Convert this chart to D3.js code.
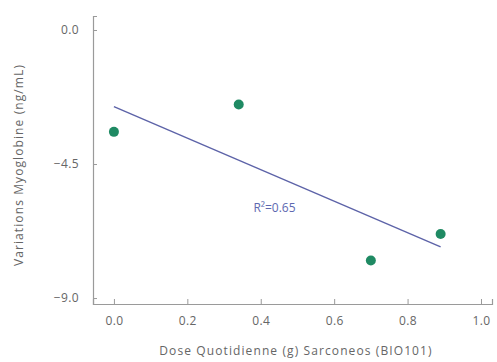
<!DOCTYPE html>
<html>
<head>
<meta charset="utf-8">
<script src="https://cdn.jsdelivr.net/npm/d3@7"></script>
<style>
  body { margin: 0; background: #fff; }
  svg text { font-family: "Open Sans", Lato, sans-serif; }
</style>
</head>
<body>
<div id="chart"></div>
<script>
// dose quotidienne (g) vs variation de myoglobine (ng/mL)
const doses = [0.0, 0.34, 0.70, 0.89];
const variations = [-3.42, -2.50, -7.74, -6.85];
const xTicks = [0.0, 0.2, 0.4, 0.6, 0.8, 1.0];
const yTicks = [0.0, -4.5, -9.0];
const r2Label = 'R²=0.65';

const width = 497, height = 362;
const svg = d3.select('#chart').append('svg')
  .attr('width', width).attr('height', height);

const x = d3.scaleLinear().domain([-0.057, 1.03]).range([93, 492]);
const y = d3.scaleLinear().domain([-9.2, 0.47]).range([304, 16]);

// axes
const xAxis = svg.append('g')
  .attr('transform', `translate(0,${y(-9.2)})`)
  .call(d3.axisBottom(x).tickValues(xTicks).tickSize(-5).tickPadding(12).tickFormat(d3.format('.1f')));
const yAxis = svg.append('g')
  .attr('transform', `translate(${x(-0.057)},0)`)
  .call(d3.axisLeft(y).tickValues(yTicks).tickSize(-4).tickPadding(14).tickFormat(d3.format('.1f')));

[xAxis, yAxis].forEach(g => {
  g.select('.domain').attr('stroke', '#9a9a9a').attr('stroke-width', 1.2);
  g.selectAll('.tick line').attr('stroke', '#9a9a9a');
  g.selectAll('.tick text').attr('fill', '#666').style('font-size', '12px').style('letter-spacing', '0.4px');
});

// droite de régression (moindres carrés)
const mx = d3.mean(doses), my = d3.mean(variations);
const sxy = d3.sum(doses, (d, i) => (d - mx) * (variations[i] - my));
const sxx = d3.sum(doses, d => (d - mx) ** 2);
const slope = sxy / sxx, intercept = my - slope * mx;
const xr = d3.extent(doses);

svg.append('line')
  .attr('x1', x(xr[0])).attr('y1', y(intercept + slope * xr[0]))
  .attr('x2', x(xr[1])).attr('y2', y(intercept + slope * xr[1]))
  .attr('stroke', '#5d63a8').attr('stroke-width', 1.4);

svg.selectAll('circle.pt')
  .data(doses)
  .enter()
  .append('circle')
  .attr('class', 'pt')
  .attr('cx', d => x(d))
  .attr('cy', (d, i) => y(variations[i]))
  .attr('r', 5)
  .attr('fill', '#1f8a63');

svg.append('text')
  .attr('x', x(0.38)).attr('y', y(-6.1))
  .attr('fill', '#5d68b0').style('font-size', '12px')
  .text(r2Label);

// titres des axes
svg.append('text')
  .attr('x', 296).attr('y', 355)
  .attr('text-anchor', 'middle')
  .attr('fill', '#666').style('font-size', '12px').style('letter-spacing', '1.1px')
  .text('Dose Quotidienne (g) Sarconeos (BIO101)');

svg.append('text')
  .attr('transform', 'translate(23,165) rotate(-90)')
  .attr('text-anchor', 'middle')
  .attr('fill', '#666').style('font-size', '12px').style('letter-spacing', '1.1px')
  .text('Variations Myoglobine (ng/mL)');
</script>
</body>
</html>
